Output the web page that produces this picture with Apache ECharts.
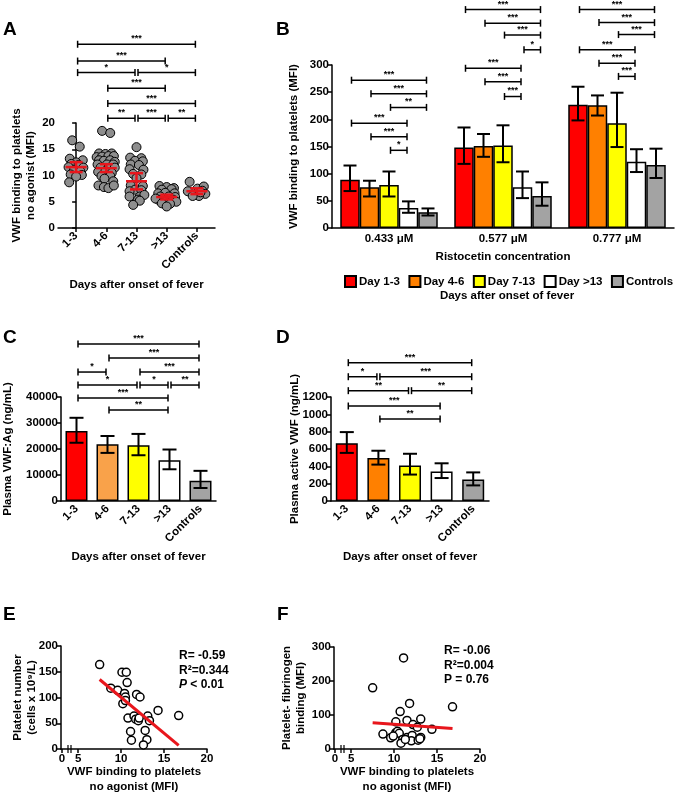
<!DOCTYPE html>
<html>
<head>
<meta charset="utf-8">
<script src="https://cdn.jsdelivr.net/npm/echarts@6.0.0/dist/echarts.min.js"></script>
<style>
html, body { margin: 0; background: #fff; }
#chart { width: 677px; height: 799px; }
</style>
</head>
<body>
<div id="chart"></div>
<script>
// ---- data ----
const days = ['1-3', '4-6', '7-13', '>13', 'Controls'];
const dayNames = ['Day 1-3', 'Day 4-6', 'Day 7-13', 'Day >13', 'Controls'];

// A: [jitter, MFI] per group
const ptsA13 = [[-0.13,16.7],[0.12,15.5],[-0.21,13.2],[0.22,12.9],[0,12.5],[-0.16,12.2],[0.08,12.0],[-0.25,11.6],[0.24,11.5],[-0.07,11.0],[0.14,10.8],[-0.18,10.2],[0.19,10.1],[0,9.8],[-0.23,8.7]];
const ptsA46 = [[-0.14,18.5],[0.13,18.1],[-0.24,14.2],[-0.03,14.1],[0.18,14.2],[-0.32,13.5],[-0.14,13.6],[0.07,13.7],[0.25,13.7],[-0.24,12.9],[-0.08,12.8],[0.13,12.9],[0.28,12.6],[-0.29,12.1],[0.02,12.1],[0.23,12.1],[-0.19,11.5],[0.07,11.4],[0.28,11.5],[-0.27,10.7],[-0.03,10.8],[0.18,10.5],[-0.16,9.9],[0.13,9.9],[-0.06,9.4],[0.23,8.9],[-0.26,8.1],[-0.08,7.8],[0.07,7.6],[0.25,8.1]];
const ptsA713 = [[0,15.4],[-0.21,13.4],[0.16,13.3],[-0.05,12.8],[0.21,12.7],[-0.19,12.1],[0.08,12.0],[-0.23,11.2],[0.23,11.1],[-0.11,10.3],[0.16,10.2],[0,9.5],[-0.19,8.1],[0.21,8.0],[-0.05,7.3],[0.16,7.2],[-0.23,7.0],[-0.23,6.0],[0.11,6.0],[0.26,6.3],[0.05,5.4],[0.11,5.2],[-0.11,4.4]];
const ptsAgt13 = [[-0.24,8.0],[0,7.8],[0.24,7.6],[-0.16,7.3],[0.16,7.4],[-0.28,6.6],[-0.05,6.7],[0.26,6.6],[-0.21,6.0],[0.07,6.0],[0.28,5.9],[-0.28,5.4],[-0.05,5.2],[0.21,5.4],[-0.37,5.6],[0.32,5.0],[-0.16,4.7],[0.11,4.6],[0,4.1]];
const ptsACtl = [[-0.24,8.8],[0.02,7.5],[0.23,7.9],[-0.19,6.8],[0.18,7.1],[-0.06,6.3],[0.28,6.5],[-0.3,7.0],[0.07,6.1],[-0.14,6.1],[0.12,6.8]];
const meanA = [11.6, 11.4, 8.9, 5.9, 7.0];
const semA = [0.95, 0.75, 1.55, 0.45, 0.55];
// [from, to, level, stars]
const sigA = [[0,4,35.0,'***'],[0,3,31.8,'***'],[0,2,29.6,'*'],[2,4,29.6,'*'],[1,3,26.6,'***'],[1,4,23.7,'***'],[1,2,20.9,'**'],[2,3,20.9,'***'],[3,4,20.9,'**']];

// B: per day group, at the three ristocetin doses
const doses = ['0.433 \u03bcM', '0.577 \u03bcM', '0.777 \u03bcM'];
const b13 = [89, 148, 227], b13Lo = [68, 118, 198], b13Hi = [115, 185, 260];
const b46 = [75, 151, 226], b46Lo = [58, 131, 207], b46Hi = [87, 173, 244];
const b713 = [79, 152, 193], b713Lo = [58, 121, 149], b713Hi = [104, 189, 249];
const bGt13 = [37, 75, 122], bGt13Lo = [28, 55, 103], bGt13Hi = [49, 104, 145];
const bCtl = [29, 59, 116], bCtlLo = [23, 41, 92], bCtlHi = [36, 84, 146];
// [dose, fromBar, toBar, level, stars]
const sigB = [
  [0,0,4,272,'***'],[0,1,4,247,'***'],[0,2,4,222,'**'],[0,0,3,193,'***'],[0,1,3,168,'***'],[0,2,3,143,'*'],
  [1,0,4,402,'***'],[1,1,4,377,'***'],[1,2,4,355,'***'],[1,3,4,328,'*'],[1,0,3,294,'***'],[1,1,3,269,'***'],[1,2,3,242,'***'],
  [2,0,4,402,'***'],[2,1,4,378,'***'],[2,2,4,356,'***'],[2,0,3,328,'***'],[2,1,3,303,'***'],[2,2,3,279,'***']
];

// C: plasma VWF:Ag
const vwfAg = [26900, 21800, 21400, 15700, 7800];
const vwfAgLo = [22400, 18500, 17600, 12200, 5000];
const vwfAgHi = [32000, 25000, 25800, 19800, 11600];
const sigC = [[0,4,60400,'***'],[1,4,55000,'***'],[0,1,49600,'*'],[2,4,49600,'***'],[0,2,44600,'*'],[2,3,44600,'*'],[3,4,44600,'**'],[0,3,39600,'***'],[1,3,35000,'**']];

// D: plasma active VWF
const actVwf = [665, 495, 410, 340, 248];
const actVwfLo = [555, 420, 305, 265, 180];
const actVwfHi = [795, 580, 545, 435, 330];
const sigD = [[0,4,1596,'***'],[0,1,1434,'*'],[1,4,1434,'***'],[0,2,1273,'**'],[2,4,1273,'**'],[0,3,1096,'***'],[1,3,946,'**']];

// E, F: [VWF binding MFI, y]
const ptsE = [[7.5,164],[8.8,118],[9.6,114],[10.1,149],[10.6,149],[10.7,129],[10.4,108],[10.5,101],[10.2,88],[10.5,94],[11.8,106],[12.2,101],[10.8,60],[11.5,64],[11.7,58],[12.0,55],[12.1,60],[13.1,64],[13.3,55],[14.3,75],[16.7,65],[11.1,34],[11.2,17],[12.8,36],[13.0,18],[12.6,8]];
const fitE = [[7.5,135],[16.7,7]];
const ptsF = [[11.1,268],[7.5,180],[11.8,134],[10.7,110],[16.8,124],[10.2,80],[11.5,84],[13.1,88],[12.2,72],[12.7,64],[14.4,58],[8.7,44],[10.2,48],[10.4,52],[10.6,46],[9.6,33],[9.9,38],[11.0,28],[10.8,17],[11.5,34],[12.1,40],[12.0,24],[12.8,26],[13.1,34],[13.0,30],[11.3,28]];
const fitF = [[7.5,77],[16.8,60]];

// ---- styling ----
const ink = '#000';
const FONT = '"Liberation Sans", Arial, sans-serif';
const dayColors = ['#ff0000', '#ff8000', '#ffff00', '#ffffff', '#a3a3a3'];
const dayColorsC = ['#ff0000', '#f9a24a', '#ffff00', '#ffffff', '#a3a3a3'];
const red = '#e8161c';
const BW = 19.5;

const txt = { color: ink, fontFamily: FONT, fontWeight: 'bold', fontSize: 11.5 };
const aLine = { lineStyle: { color: ink, width: 1.5 } };
const aTick = { length: 4, lineStyle: { color: ink, width: 1.5 } };

function seg(x1, y1, x2, y2, color, w) {
  return { type: 'line', shape: { x1, y1, x2, y2 }, style: { stroke: color || ink, lineWidth: w || 1.5 } };
}
function bracket(x1, x2, y, label) {
  return { type: 'group', children: [
    seg(x1 + 1.5, y, x2 - 1.5, y),
    seg(x1 + 1.5, y - 3.5, x1 + 1.5, y + 3.5),
    seg(x2 - 1.5, y - 3.5, x2 - 1.5, y + 3.5),
    { type: 'text', x: (x1 + x2) / 2, y: y - 1,
      style: { text: label, fill: ink, font: 'bold 9px ' + FONT, align: 'center', verticalAlign: 'bottom' } }
  ] };
}
function errBar(x, yLo, yHi, half) {
  return { type: 'group', children: [
    seg(x, yLo, x, yHi, ink, 2),
    seg(x - half, yLo, x + half, yLo, ink, 2),
    seg(x - half, yHi, x + half, yHi, ink, 2)
  ] };
}
function yAxis(grid, max, interval, name, gap) {
  return { type: 'value', gridIndex: grid, min: 0, max, interval, name, nameLocation: 'middle', nameGap: gap,
    nameMoveOverlap: false, nameTextStyle: Object.assign({ lineHeight: 14 }, txt),
    axisLine: Object.assign({ show: true }, aLine), axisTick: Object.assign({ show: true }, aTick),
    axisLabel: Object.assign({ margin: 3, formatter: v => String(v) }, txt), splitLine: { show: false } };
}
function dayAxis(grid) {
  return { type: 'category', gridIndex: grid, data: days, name: 'Days after onset of fever', nameLocation: 'middle',
    nameGap: 50, nameMoveOverlap: false, nameTextStyle: txt,
    axisLine: aLine, axisTick: Object.assign({ alignWithLabel: true }, aTick),
    axisLabel: Object.assign({ rotate: 45, interval: 0, margin: 6 }, txt), splitLine: { show: false } };
}
function vwfAxis(grid) {
  return { type: 'value', gridIndex: grid, min: 3, max: 20, name: 'VWF binding to platelets\nno agonist (MFI)',
    nameLocation: 'middle', nameGap: 15, nameMoveOverlap: false, nameTextStyle: Object.assign({ lineHeight: 15 }, txt),
    axisLine: aLine, axisTick: Object.assign({ customValues: [5, 10, 15, 20] }, aTick),
    axisLabel: Object.assign({ customValues: [5, 10, 15, 20], margin: 4 }, txt), splitLine: { show: false } };
}
function simpleBrackets(xi, rows) {
  return { type: 'custom', xAxisIndex: xi, yAxisIndex: xi, clip: false, silent: true, z: 5,
    data: rows.map(r => [r[0], r[2]]),
    renderItem(params, api) {
      const r = rows[params.dataIndex];
      const a = api.coord([r[0], r[2]]), b = api.coord([r[1], r[2]]);
      return bracket(a[0], b[0], a[1], r[3]);
    } };
}
function barErrors(xi, lo, hi) {
  return { type: 'custom', xAxisIndex: xi, yAxisIndex: xi, clip: false, silent: true, z: 4,
    data: lo.map((v, i) => [i, v, hi[i]]),
    renderItem(params, api) {
      const l = api.coord([api.value(0), api.value(1)]);
      const h = api.coord([api.value(0), api.value(2)]);
      return errBar(l[0], l[1], h[1], 7);
    } };
}

const groupsA = [ptsA13, ptsA46, ptsA713, ptsAgt13, ptsACtl];
const scatterA = [];
groupsA.forEach((g, gi) => g.forEach(p => scatterA.push([gi + p[0], p[1]])));

const bVals = [b13, b46, b713, bGt13, bCtl];
const bLo = [b13Lo, b46Lo, b713Lo, bGt13Lo, bCtlLo];
const bHi = [b13Hi, b46Hi, b713Hi, bGt13Hi, bCtlHi];
const errRowsB = [];
bVals.forEach((s, si) => s.forEach((v, g) => errRowsB.push([g, si, bLo[si][g], bHi[si][g]])));

const barsB = bVals.map((s, si) => ({
  type: 'bar', name: dayNames[si], xAxisIndex: 1, yAxisIndex: 1, data: s, barWidth: BW, barGap: '0%',
  itemStyle: { color: dayColors[si], borderColor: ink, borderWidth: 1.5 }, silent: true
}));

const chart = echarts.init(document.getElementById('chart'));
chart.setOption({
  animation: false,
  backgroundColor: '#fff',
  textStyle: { fontFamily: FONT },
  grid: [
    { left: 58, top: 123, width: 157, height: 105, outerBoundsMode: 'none' },
    { left: 332, top: 65, width: 342, height: 163, outerBoundsMode: 'none' },
    { left: 61, top: 397, width: 155, height: 104, outerBoundsMode: 'none' },
    { left: 331, top: 397, width: 158, height: 104, outerBoundsMode: 'none' },
    { left: 61, top: 646, width: 146, height: 103, outerBoundsMode: 'none' },
    { left: 334, top: 647, width: 146, height: 102, outerBoundsMode: 'none' }
  ],
  legend: {
    data: dayNames, left: 339, top: 270, width: 420, itemWidth: 11, itemHeight: 11, itemGap: 8.5, icon: 'rect',
    selectedMode: false, textStyle: Object.assign({ padding: [0, 0, 0, -2] }, txt)
  },
  xAxis: [
    { type: 'value', gridIndex: 0, min: -0.6, max: 4.6, name: 'Days after onset of fever', nameLocation: 'middle',
      nameGap: 51, nameMoveOverlap: false, nameTextStyle: txt, axisLine: aLine,
      axisTick: Object.assign({ customValues: [0, 1, 2, 3, 4] }, aTick),
      axisLabel: Object.assign({ customValues: [0, 1, 2, 3, 4], rotate: 45, margin: 6, formatter: v => days[v] }, txt),
      splitLine: { show: false } },
    { type: 'category', gridIndex: 1, data: doses, name: 'Ristocetin concentration', nameLocation: 'middle',
      nameGap: 23, nameMoveOverlap: false, nameTextStyle: txt, axisLine: aLine, axisTick: { show: false },
      axisLabel: Object.assign({ margin: 5 }, txt), splitLine: { show: false } },
    dayAxis(2),
    dayAxis(3),
    vwfAxis(4),
    vwfAxis(5)
  ],
  yAxis: [
    yAxis(0, 20, 5, 'VWF binding to platelets\nno agonist (MFI)', 20),
    yAxis(1, 300, 50, 'VWF binding to platelets (MFI)', 31),
    yAxis(2, 40000, 10000, 'Plasma VWF:Ag (ng/mL)', 46),
    yAxis(3, 1200, 200, 'Plasma active VWF (ng/mL)', 29),
    yAxis(4, 200, 50, 'Platelet number\n(cells x 10\u2079/L)', 22),
    yAxis(5, 300, 100, 'Platelet- fibrinogen\nbinding (MFI)', 26)
  ],
  series: [
    { type: 'scatter', xAxisIndex: 0, yAxisIndex: 0, data: scatterA, symbolSize: 9, silent: true,
      itemStyle: { color: '#8e8e8e', borderColor: ink, borderWidth: 1, opacity: 1 } },
    { type: 'custom', xAxisIndex: 0, yAxisIndex: 0, silent: true, z: 6,
      data: meanA.map((m, i) => [i, m, semA[i]]),
      renderItem(params, api) {
        const gi = api.value(0), m = api.value(1), s = api.value(2);
        const c = api.coord([gi, m]), lo = api.coord([gi, m - s]), hi = api.coord([gi, m + s]);
        return { type: 'group', children: [
          seg(c[0] - 10.5, c[1], c[0] + 10.5, c[1], red, 2.5),
          seg(c[0], lo[1], c[0], hi[1], red, 2.5),
          seg(c[0] - 6.5, lo[1], c[0] + 6.5, lo[1], red, 2.5),
          seg(c[0] - 6.5, hi[1], c[0] + 6.5, hi[1], red, 2.5)
        ] };
      } },
    simpleBrackets(0, sigA),

    ...barsB,
    { type: 'custom', xAxisIndex: 1, yAxisIndex: 1, clip: false, silent: true, z: 4,
      data: errRowsB.map(r => [r[0], r[2], r[3]]),
      renderItem(params, api) {
        const r = errRowsB[params.dataIndex];
        const l = api.coord([r[0], r[2]]), h = api.coord([r[0], r[3]]);
        const x = l[0] + (r[1] - 2) * BW;
        return errBar(x, l[1], h[1], 6.5);
      } },
    { type: 'custom', xAxisIndex: 1, yAxisIndex: 1, clip: false, silent: true, z: 5,
      data: sigB.map(r => [r[0], r[3]]),
      renderItem(params, api) {
        const r = sigB[params.dataIndex];
        const c = api.coord([r[0], r[3]]);
        return bracket(c[0] + (r[1] - 2) * BW, c[0] + (r[2] - 2) * BW, c[1], r[4]);
      } },

    { type: 'bar', name: 'VWF:Ag', xAxisIndex: 2, yAxisIndex: 2, barWidth: 22, silent: true,
      data: vwfAg.map((v, i) => ({ value: v, itemStyle: { color: dayColorsC[i] } })),
      itemStyle: { borderColor: ink, borderWidth: 1.5 } },
    barErrors(2, vwfAgLo, vwfAgHi),
    simpleBrackets(2, sigC),

    { type: 'bar', name: 'active VWF', xAxisIndex: 3, yAxisIndex: 3, barWidth: 22, silent: true,
      data: actVwf.map((v, i) => ({ value: v, itemStyle: { color: dayColors[i] } })),
      itemStyle: { borderColor: ink, borderWidth: 1.5 } },
    barErrors(3, actVwfLo, actVwfHi),
    simpleBrackets(3, sigD),

    { type: 'scatter', xAxisIndex: 4, yAxisIndex: 4, data: ptsE, symbolSize: 8, silent: true,
      itemStyle: { color: '#fff', borderColor: ink, borderWidth: 1.5, opacity: 1 } },
    { type: 'line', xAxisIndex: 4, yAxisIndex: 4, data: fitE, showSymbol: false, silent: true,
      lineStyle: { color: red, width: 3 } },
    { type: 'scatter', xAxisIndex: 5, yAxisIndex: 5, data: ptsF, symbolSize: 8, silent: true,
      itemStyle: { color: '#fff', borderColor: ink, borderWidth: 1.5, opacity: 1 } },
    { type: 'line', xAxisIndex: 5, yAxisIndex: 5, data: fitF, showSymbol: false, silent: true,
      lineStyle: { color: red, width: 3 } }
  ]
});

// panel letters, annotations and the broken-axis "0" marks
function label(text, x, y, size, extra) {
  return Object.assign({ type: 'text', x, y, silent: true,
    style: { text, fill: ink, font: 'bold ' + size + 'px ' + FONT } }, extra || {});
}
const gfx = [
  label('A', 3, 20, 19), label('B', 276, 20, 19), label('C', 3, 328, 19),
  label('D', 276, 328, 19), label('E', 3, 605, 19), label('F', 277, 605, 19),
  label('Days after onset of fever', 507, 290, 11.5, {}),
  label('R= -0.59', 179, 650, 12), label('R\u00b2=0.344', 179, 665, 12),
  { type: 'text', x: 179, y: 679, silent: true,
    style: { text: '{i|P} < 0.01', fill: ink, font: 'bold 12px ' + FONT,
      rich: { i: { fontStyle: 'italic', fontWeight: 'bold', fontSize: 12, fontFamily: FONT } } } },
  label('R= -0.06', 444, 645, 12), label('R\u00b2=0.004', 444, 660, 12), label('P = 0.76', 444, 674, 12)
];
gfx[6].style.align = 'center';
[4, 5].forEach(gi => {
  const p = chart.convertToPixel({ gridIndex: gi }, [3, 0]);
  gfx.push({ type: 'text', x: p[0] + 1, y: p[1] + 4, silent: true,
    style: { text: '0', fill: ink, font: 'bold 11.5px ' + FONT, align: 'center' } });
  gfx.push({ type: 'line', silent: true, shape: { x1: p[0] + 1, y1: p[1], x2: p[0] + 1, y2: p[1] + 4 }, style: { stroke: ink, lineWidth: 1.5 } });
  gfx.push({ type: 'line', silent: true, shape: { x1: p[0] + 7, y1: p[1] - 4, x2: p[0] + 7, y2: p[1] + 4 }, style: { stroke: ink, lineWidth: 1.2 } });
  gfx.push({ type: 'line', silent: true, shape: { x1: p[0] + 10, y1: p[1] - 4, x2: p[0] + 10, y2: p[1] + 4 }, style: { stroke: ink, lineWidth: 1.2 } });
});
chart.setOption({ graphic: gfx });
</script>
</body>
</html>
